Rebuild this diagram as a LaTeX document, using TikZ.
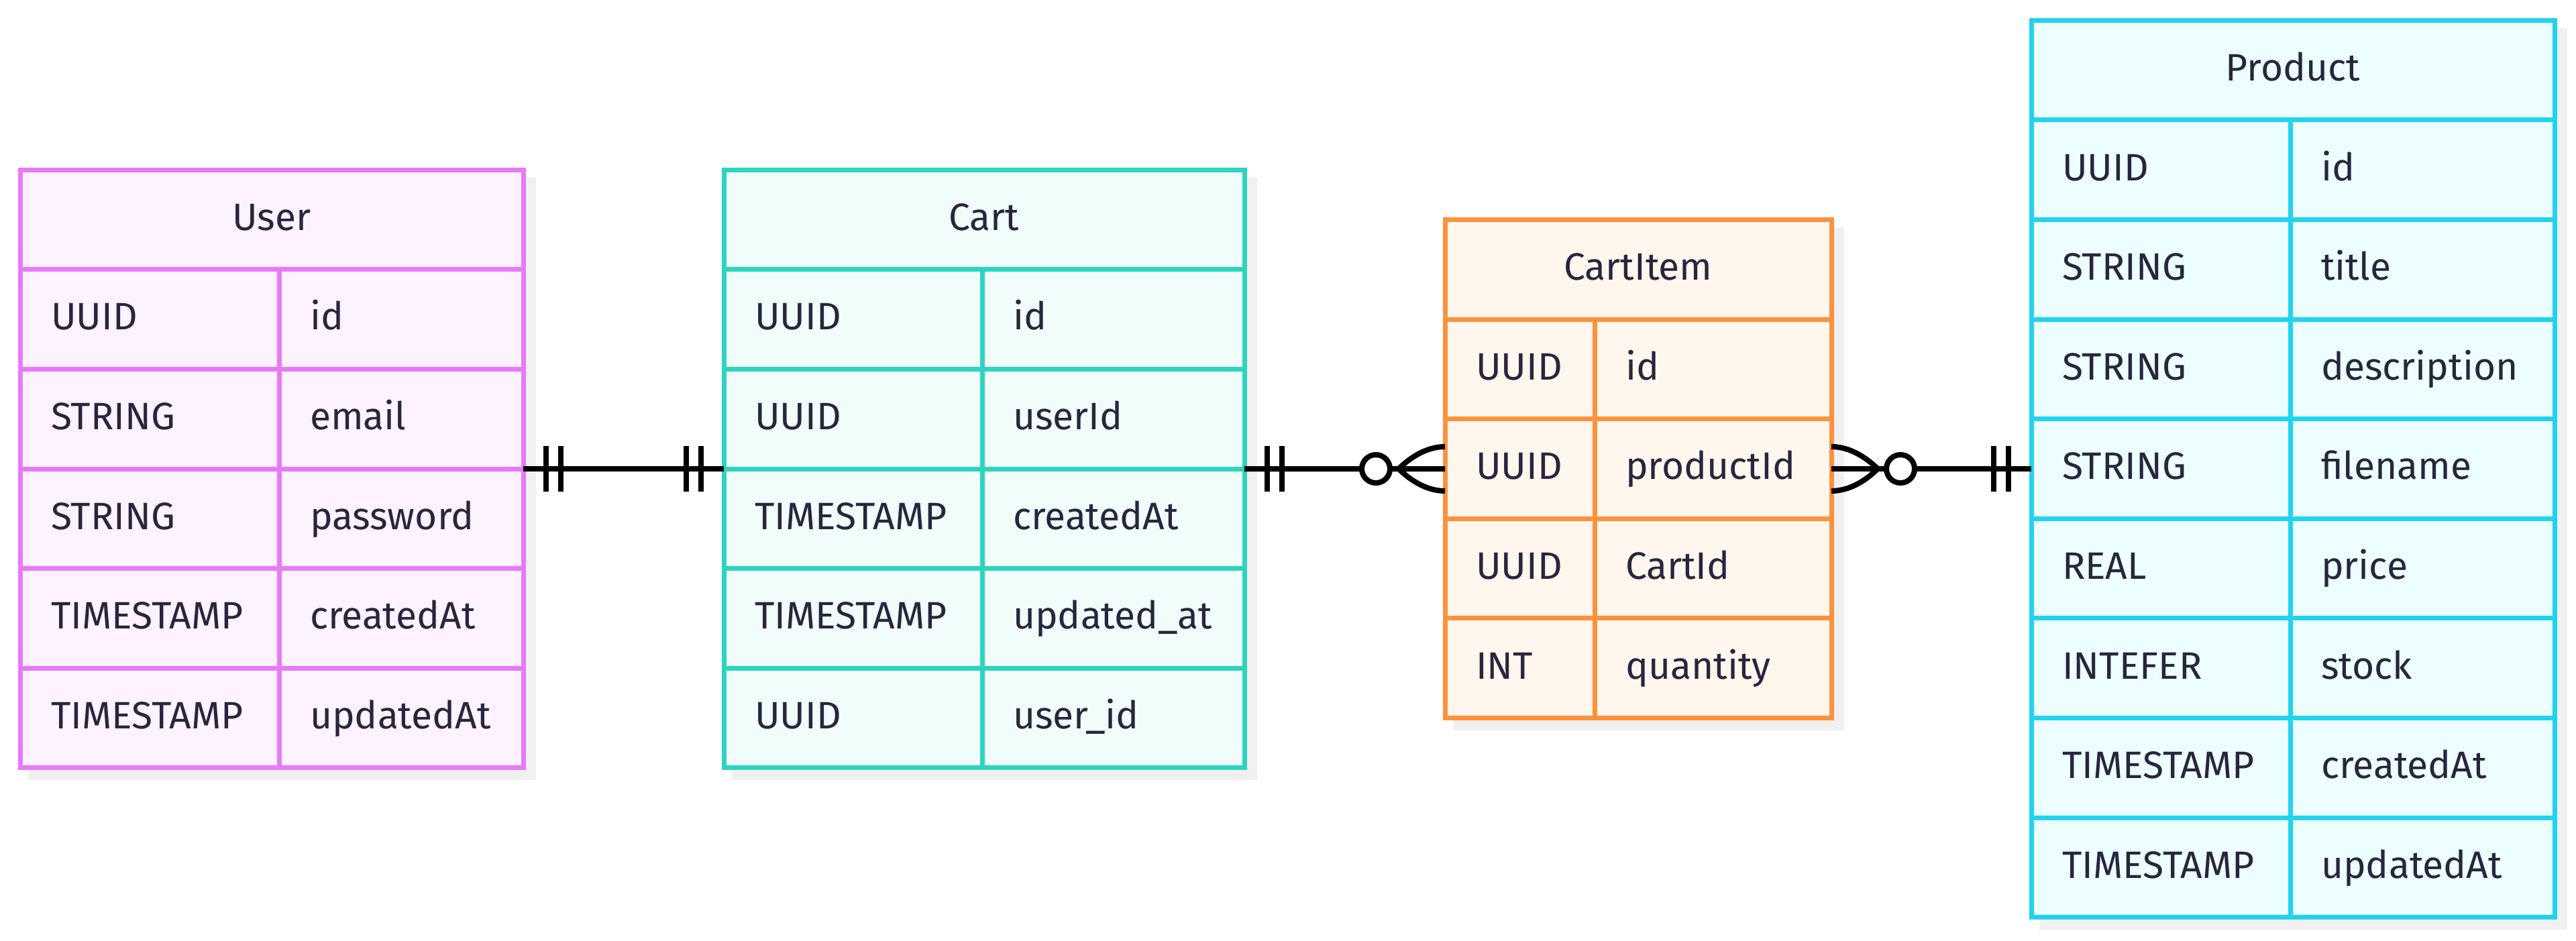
\documentclass[tikz,border=0pt]{standalone}
\usepackage{fontspec}
\setmainfont{Fira Sans}
\usepackage{xcolor}
\usetikzlibrary{positioning, calc, backgrounds}
\definecolor{userline}{RGB}{232, 121, 249}
\definecolor{userbg}{RGB}{253, 242, 255}
\definecolor{cartline}{RGB}{45, 212, 191}
\definecolor{cartbg}{RGB}{240, 253, 250}
\definecolor{itemline}{RGB}{251, 146, 60}
\definecolor{itembg}{RGB}{255, 246, 237}
\definecolor{prodline}{RGB}{34, 211, 238}
\definecolor{prodbg}{RGB}{236, 254, 255}
\definecolor{ink}{RGB}{40, 37, 62}
\definecolor{shadowgray}{RGB}{240, 240, 240}

\begin{document}
\begin{tikzpicture}[
    x=1mm, y=1mm,
    cell/.style={draw, line width=0.7mm, outer sep=0pt, inner xsep=4.6mm,
                 inner ysep=0pt, minimum height=14.86mm, text height=0.9em,
                 text depth=0pt, align=left, text=ink,
                 font=\fontsize{16.2}{19}\selectfont},
    head/.style={cell, align=center},
    user/.style={draw=userline, fill=userbg},
    cart/.style={draw=cartline, fill=cartbg},
    item/.style={draw=itemline, fill=itembg},
    prod/.style={draw=prodline, fill=prodbg},
    rel/.style={line width=0.8mm, black},
    erone/.pic={\draw[rel] (3.4,-3.4) -- (3.4,3.4) (5.6,-3.4) -- (5.6,3.4);},
    ermany/.pic={
      \draw[rel] (6.9,0) .. controls (5.4,1.5) and (2.9,3.3) .. (0,3.3);
      \draw[rel] (6.9,0) .. controls (5.4,-1.5) and (2.9,-3.3) .. (0,-3.3);
      \draw[rel, fill=white] (10.3,0) circle (2.1);}
  ]
  \useasboundingbox (0,0) rectangle (384,140.2);

  % User
  \node[head, user, anchor=north west, text width=65.8mm] (u-h) at (3,114.88) {User};
  \foreach \typ/\fld [count=\i] in {UUID/id, STRING/email, STRING/password,
      TIMESTAMP/createdAt, TIMESTAMP/updatedAt} {
    \node[cell, user, anchor=north west, text width=29.4mm] (u-t\i)
      at (3,114.88-14.86*\i) {\typ};
    \node[cell, user, right=0pt of u-t\i, text width=27.2mm] (u-n\i) {\fld};
  }

  % Cart
  \node[head, cart, anchor=north west, text width=68.4mm] (c-h) at (107.9,114.88) {Cart};
  \foreach \typ/\fld [count=\i] in {UUID/id, UUID/userId, TIMESTAMP/createdAt,
      TIMESTAMP/updated\_at, UUID/user\_id} {
    \node[cell, cart, anchor=north west, text width=29.3mm] (c-t\i)
      at (107.9,114.88-14.86*\i) {\typ};
    \node[cell, cart, right=0pt of c-t\i, text width=29.9mm] (c-n\i) {\fld};
  }

  % CartItem
  \node[head, item, anchor=north west, text width=48.4mm] (i-h) at (215.4,107.45) {CartItem};
  \foreach \typ/\fld [count=\i] in {UUID/id, UUID/productId, UUID/CartId,
      INT/quantity} {
    \node[cell, item, anchor=north west, text width=13.1mm] (i-t\i)
      at (215.4,107.45-14.86*\i) {\typ};
    \node[cell, item, right=0pt of i-t\i, text width=26.1mm] (i-n\i) {\fld};
  }

  % Product
  \node[head, prod, anchor=north west, text width=68.8mm] (p-h) at (302.8,137.17) {Product};
  \foreach \typ/\fld [count=\i] in {UUID/id, STRING/title, STRING/description,
      STRING/filename, REAL/price, INTEFER/stock, TIMESTAMP/createdAt,
      TIMESTAMP/updatedAt} {
    \node[cell, prod, anchor=north west, text width=29.4mm] (p-t\i)
      at (302.8,137.17-14.86*\i) {\typ};
    \node[cell, prod, right=0pt of p-t\i, text width=30.2mm] (p-n\i) {\fld};
  }

  % Shadows
  \begin{scope}[on background layer]
    \fill[shadowgray] ($(u-h.north west)+(1.15,-1.15)$) rectangle ($(u-n5.south east)+(1.85,-1.85)$);
    \fill[shadowgray] ($(c-h.north west)+(1.15,-1.15)$) rectangle ($(c-n5.south east)+(1.85,-1.85)$);
    \fill[shadowgray] ($(i-h.north west)+(1.15,-1.15)$) rectangle ($(i-n4.south east)+(1.85,-1.85)$);
    \fill[shadowgray] ($(p-h.north west)+(1.15,-1.15)$) rectangle ($(p-n8.south east)+(1.85,-1.85)$);
  \end{scope}

  % Relations
  \draw[rel] (u-n2.south east) -- (c-t2.south west);
  \pic at (u-n2.south east) {erone};
  \pic[xscale=-1] at (c-t2.south west) {erone};

  \draw[rel] (c-n2.south east) -- (i-t2.west);
  \pic at (c-n2.south east) {erone};
  \pic[xscale=-1] at (i-t2.west) {ermany};

  \draw[rel] (i-n2.east) -- (p-t4.west);
  \pic at (i-n2.east) {ermany};
  \pic[xscale=-1] at (p-t4.west) {erone};

\end{tikzpicture}
\end{document}
